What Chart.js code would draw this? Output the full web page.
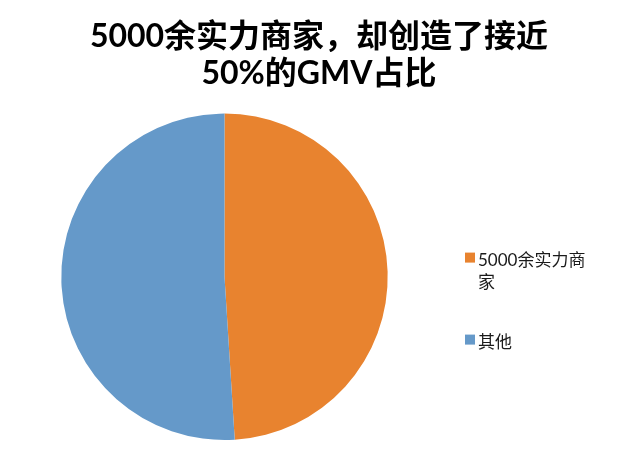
<!DOCTYPE html>
<html><head><meta charset="utf-8">
<script src="https://cdn.jsdelivr.net/npm/chart.js@4"></script>
<style>html,body{margin:0;padding:0;background:#fff}#wrap{width:638px;height:451px;position:relative}</style>
</head><body><div id="wrap"><canvas id="c"></canvas></div>
<script>
const titleLines = ['5000余实力商家，却创造了接近', '50%的GMV占比'];
const categories = ['5000余实力商家', '其他'];
const shareValues = [49, 51];
const sliceColors = ['#E8832F', '#6599C9'];

const LEGEND_W = 189;
const legendFont = '17px Lato, "Noto Sans CJK SC", sans-serif';

function wrapText(ctx, text, maxW) {
  const lines = [];
  let cur = '';
  for (const ch of text) {
    if (cur && ctx.measureText(cur + ch).width > maxW) { lines.push(cur); cur = ch; }
    else cur += ch;
  }
  if (cur) lines.push(cur);
  return lines;
}

const sideLegend = {
  id: 'sideLegend',
  beforeInit(chart) {
    const box = {
      position: 'right', weight: 100, fullSize: false, options: {},
      left: 0, top: 0, right: 0, bottom: 0, width: 0, height: 0,
      isHorizontal() { return false; },
      update(maxWidth, maxHeight) { this.width = LEGEND_W; this.height = maxHeight; },
      draw() {}
    };
    chart.$sideBox = box;
    Chart.layouts.addBox(chart, box);
  },
  afterDraw(chart) {
    const ctx = chart.ctx;
    const area = chart.chartArea;
    const x0 = area.right + 16;
    let y = area.top + 145;
    const lh = 22;
    ctx.save();
    ctx.font = legendFont;
    ctx.textBaseline = 'middle';
    ctx.textAlign = 'left';
    const labels = chart.data.labels;
    const colors = chart.data.datasets[0].backgroundColor;
    labels.forEach((lab, i) => {
      const lines = wrapText(ctx, lab, 118);
      ctx.fillStyle = colors[i];
      ctx.fillRect(x0, y - 6, 10, 10);
      ctx.fillStyle = '#1a1a1a';
      lines.forEach((ln, j) => ctx.fillText(ln, x0 + 13, y + 2 + j * lh));
      y += lines.length * lh + 38;
    });
    ctx.restore();
  }
};

new Chart(document.getElementById('c'), {
  type: 'pie',
  data: {
    labels: categories,
    datasets: [{
      data: shareValues,
      backgroundColor: sliceColors,
      borderWidth: 0,
      hoverOffset: 0
    }]
  },
  options: {
    responsive: true,
    maintainAspectRatio: false,
    animation: false,
    layout: { padding: { top: 0, left: 0, right: 0, bottom: 11 } },
    plugins: {
      legend: { display: false },
      tooltip: { enabled: false },
      title: {
        display: true,
        text: titleLines,
        color: '#000',
        font: { family: 'Lato, "Noto Sans CJK SC", sans-serif', size: 32, weight: 'bold', lineHeight: 1.15 },
        padding: { top: 18, bottom: 22 }
      }
    }
  },
  plugins: [sideLegend]
});
</script>
</body></html>
